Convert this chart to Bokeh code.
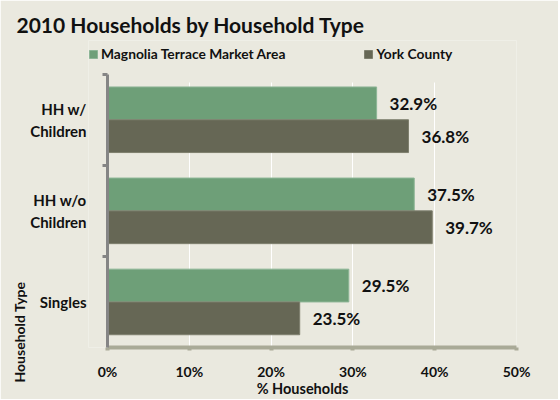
import numpy as np
from bokeh.plotting import figure
from bokeh.models import (Range1d, FixedTicker, ColumnDataSource, Legend, LegendItem, Title, Grid,
                          Span, NumeralTickFormatter)
from bokeh.core.properties import value
from bokeh.embed import file_html
from bokeh.resources import INLINE

categories = ["HH w/\nChildren", "HH w/o\nChildren", "Singles"]
market_area = [32.9, 37.5, 29.5]
york_county = [36.8, 39.7, 23.5]
series_names = ["Magnolia Terrace Market Area", "York County"]
x_ticks = [0, 10, 20, 30, 40, 50]

FONT = "Lato"
BG = "#EAE9DF"
GREEN = "#6E9F78"
DARK = "#666755"
AXIS_GRAY = "#858585"
TXT = "#111111"

n = len(categories)
centers = [n - 0.5 - i for i in range(n)]
off = 0.18
src = ColumnDataSource(dict(
    y_ma=[c + off for c in centers],
    y_yc=[c - off for c in centers],
    ma=market_area,
    yc=york_county,
    ma_lbl=[f"{v:.1f}%" for v in market_area],
    yc_lbl=[f"{v:.1f}%" for v in york_county],
))

p = figure(width=558, height=399, output_backend="svg", toolbar_location=None,
           y_range=Range1d(0, n + 0.37), x_range=Range1d(-2.32, x_ticks[-1]),
           min_border_left=88, min_border_right=42, min_border_top=40, min_border_bottom=46)
p.background_fill_color = BG
p.border_fill_color = BG
p.outline_line_color = None

bh = 0.36
r1 = p.hbar(y="y_ma", right="ma", left=0, height=bh, source=src,
            fill_color=GREEN, line_color="#8DB596", line_width=1)
r2 = p.hbar(y="y_yc", right="yc", left=0, height=bh, source=src,
            fill_color=DARK, line_color="#7E7F6E", line_width=1)

lbl_kw = dict(text_font=value(FONT), text_font_style="bold", text_font_size="17px",
              text_baseline="middle", text_align="left", x_offset=13, text_color=TXT)
p.text(x="ma", y="y_ma", text="ma_lbl", source=src, **lbl_kw)
p.text(x="yc", y="y_yc", text="yc_lbl", source=src, **lbl_kw)

# x axis
xa = p.xaxis[0]
xa.ticker = FixedTicker(ticks=x_ticks)
xa.bounds = (x_ticks[0], x_ticks[-1])
xa.formatter = NumeralTickFormatter(format="0")
xa.major_label_overrides = {t: f"{t}%" for t in x_ticks}
xa.axis_line_color = "#A9AA97"
xa.axis_line_width = 4
xa.major_tick_line_color = "#A9AA97"
xa.major_tick_line_width = 4
xa.major_tick_in = 0
xa.major_tick_out = 3
xa.minor_tick_line_color = None
xa.major_label_standoff = 12
xa.major_label_text_font = FONT
xa.major_label_text_font_style = "bold"
xa.major_label_text_font_size = "14px"
xa.major_label_text_color = TXT
xa.axis_label = "% Households"
xa.axis_label_text_font = FONT
xa.axis_label_text_font_style = "bold"
xa.axis_label_text_font_size = "14.5px"
xa.axis_label_text_color = TXT
xa.axis_label_standoff = -3

# y category labels
ya = p.yaxis[0]
ya.ticker = FixedTicker(ticks=centers)
ya.major_label_overrides = {c: cat for c, cat in zip(centers, categories)}
ya.axis_line_color = None
ya.major_tick_line_color = None
ya.major_tick_in = 0
ya.major_tick_out = 0
ya.minor_tick_line_color = None
ya.minor_tick_in = 0
ya.minor_tick_out = 0
ya.major_label_standoff = 2
ya.major_label_text_font = FONT
ya.major_label_text_font_style = "bold"
ya.major_label_text_font_size = "15px"
ya.major_label_text_color = TXT
ya.major_label_text_align = "center"

# grids: white verticals, gray value axis at 0, short boundary ticks
p.xgrid.grid_line_color = None
p.ygrid.grid_line_color = None
if "cross_bounds" in Grid.properties():
    p.add_layout(Grid(dimension=0, ticker=FixedTicker(ticks=x_ticks[1:]), cross_bounds=(0, 2.91),
                      grid_line_color="white", grid_line_width=1))
    p.add_layout(Grid(dimension=0, ticker=FixedTicker(ticks=[0]), cross_bounds=(0, n),
                      grid_line_color=AXIS_GRAY, grid_line_width=3, level="overlay"))
    p.add_layout(Grid(dimension=1, ticker=FixedTicker(ticks=list(range(n + 1))), cross_bounds=(-0.55, 0),
                      grid_line_color=AXIS_GRAY, grid_line_width=3, level="overlay"))
else:
    p.add_layout(Grid(dimension=0, ticker=FixedTicker(ticks=x_ticks[1:]),
                      grid_line_color="white", grid_line_width=1))
    p.add_layout(Span(location=0, dimension="height", line_color=AXIS_GRAY, line_width=3))

legend = Legend(items=[LegendItem(label=series_names[0], renderers=[r1]),
                       LegendItem(label=series_names[1], renderers=[r2])],
                orientation="horizontal", location=(0, 285), spacing=78,
                glyph_width=10, glyph_height=10, label_standoff=3,
                label_text_font=FONT, label_text_font_style="bold", label_text_font_size="13.8px",
                label_text_color=TXT, background_fill_alpha=0, border_line_color=None,
                padding=0, margin=0)
p.add_layout(legend, "center")

p.title.text = "2010 Households by Household Type"
p.title.text_font = FONT
p.title.text_font_style = "bold"
p.title.text_font_size = "21px"
p.title.text_color = TXT
p.title.offset = -72
p.title.standoff = 7

p.add_layout(Title(text="Household Type", align="left", offset=-35, standoff=0, text_font=FONT,
                   text_font_style="bold", text_font_size="14px", text_color=TXT), "left")

open("out.html", "w").write(file_html(p, INLINE))
